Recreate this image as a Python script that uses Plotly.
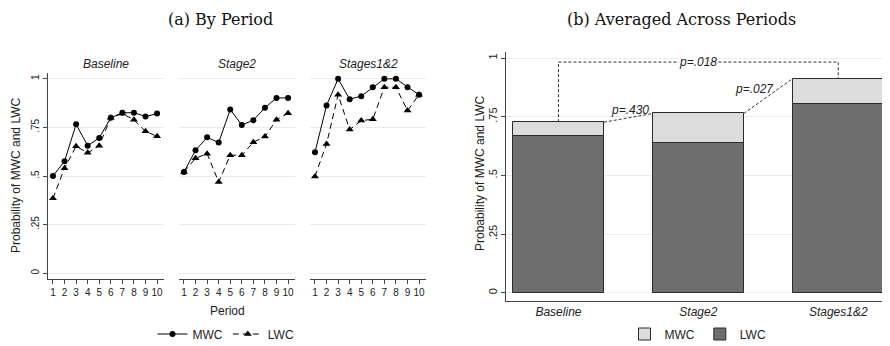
import plotly.graph_objects as go

# ---------------- data ----------------
periods = [1, 2, 3, 4, 5, 6, 7, 8, 9, 10]
panel_names = ["Baseline", "Stage2", "Stages1&2"]

mwc_baseline = [0.50, 0.576, 0.766, 0.656, 0.696, 0.80, 0.825, 0.826, 0.806, 0.821]
lwc_baseline = [0.385, 0.54, 0.653, 0.619, 0.656, 0.80, 0.821, 0.789, 0.73, 0.704]

mwc_stage2 = [0.521, 0.632, 0.699, 0.672, 0.842, 0.763, 0.787, 0.851, 0.902, 0.902]
lwc_stage2 = [0.521, 0.591, 0.615, 0.469, 0.607, 0.607, 0.674, 0.703, 0.789, 0.823]

mwc_stages12 = [0.622, 0.863, 1.0, 0.895, 0.911, 0.957, 1.0, 1.0, 0.957, 0.918]
lwc_stages12 = [0.498, 0.665, 0.918, 0.739, 0.785, 0.792, 0.957, 0.957, 0.837, 0.918]

avg_categories = ["Baseline", "Stage2", "Stages1&2"]
avg_mwc = [0.727, 0.764, 0.913]
avg_lwc = [0.666, 0.639, 0.804]

p_labels = ["p=.430", "p=.027", "p=.018"]

y_tickvals = [0, 0.25, 0.5, 0.75, 1]
y_ticktext = ["0", ".25", ".5", ".75", "1"]

# ---------------- styles ----------------
# the page body has an 8px default margin, so the figure is drawn 8px in
OFF = 8
W, H = 890 - OFF, 346 - OFF
SANS = "Liberation Sans, Arial, sans-serif"
SERIF = "DejaVu Serif, serif"
AX = "#444444"
GRID = "#ebebeb"
DARK = "#6e6e6e"
LIGHT = "#dcdcdc"
TXT = "#222222"


def px_x(p):
    return (p - OFF) / W


def px_y(p):
    return 1 - (p - OFF) / H


fig = go.Figure()

series = [(mwc_baseline, lwc_baseline), (mwc_stage2, lwc_stage2), (mwc_stages12, lwc_stages12)]
for i, (m, l) in enumerate(series):
    ax = "" if i == 0 else str(i + 1)
    fig.add_trace(go.Scatter(
        x=periods, y=m, mode="lines+markers", name="MWC",
        line=dict(color="black", width=1),
        marker=dict(symbol="circle", size=6, color="black"),
        xaxis="x" + ax, yaxis="y" + ax, showlegend=(i == 0), legend="legend"))
    fig.add_trace(go.Scatter(
        x=periods, y=l, mode="lines+markers", name="LWC",
        line=dict(color="black", width=1, dash="6px,4px"),
        marker=dict(symbol="triangle-up", size=7, color="black"),
        xaxis="x" + ax, yaxis="y" + ax, showlegend=(i == 0), legend="legend"))

# stacked bars: LWC at bottom, MWC-LWC on top
fig.add_trace(go.Bar(
    x=list(range(len(avg_categories))), y=avg_lwc, name="LWC",
    marker=dict(color=DARK, line=dict(color="#2a2a2a", width=1)),
    width=0.65, xaxis="x4", yaxis="y4", legend="legend2"))
fig.add_trace(go.Bar(
    x=list(range(len(avg_categories))), y=[a - b for a, b in zip(avg_mwc, avg_lwc)],
    base=avg_lwc, name="MWC",
    marker=dict(color=LIGHT, line=dict(color="#2a2a2a", width=1)),
    width=0.65, xaxis="x4", yaxis="y4", legend="legend2"))

# ---------------- axes ----------------
left_dom_y = [px_y(279), px_y(73)]
panel_px = [(48, 164), (179, 295), (310, 426)]
layout_axes = {}
for i, (a, b) in enumerate(panel_px):
    k = "" if i == 0 else str(i + 1)
    layout_axes["xaxis" + k] = dict(
        domain=[px_x(a), px_x(b)], range=[0.57, 10.6], anchor="y" + k,
        tickvals=periods, ticks="outside", ticklen=4, tickcolor=AX,
        showline=True, linecolor=AX, linewidth=1, showgrid=False, zeroline=False,
        automargin=False,
        tickfont=dict(family=SANS, size=10, color=TXT), fixedrange=True)
    layout_axes["yaxis" + k] = dict(
        domain=left_dom_y, range=[-0.03, 1.03], anchor="x" + k,
        tickvals=y_tickvals, ticktext=y_ticktext,
        showticklabels=(i == 0), ticks="outside" if i == 0 else "",
        ticklen=4, tickcolor=AX, tickangle=-90,
        showline=(i == 0), linecolor=AX, linewidth=1,
        showgrid=True, gridcolor=GRID, gridwidth=1, zeroline=False,
        automargin=False,
        tickfont=dict(family=SANS, size=10, color=TXT), fixedrange=True)

layout_axes["xaxis4"] = dict(
    domain=[px_x(506), 1.0], range=[-0.375, 2.37], anchor="y4",
    tickvals=[0, 1, 2], ticktext=["<i>%s</i>" % c for c in avg_categories],
    ticks="", showline=True, linecolor=AX, linewidth=1, showgrid=False,
    zeroline=False, automargin=False,
    tickfont=dict(family=SANS, size=12, color=TXT), fixedrange=True)
layout_axes["yaxis4"] = dict(
    domain=[px_y(301), px_y(52)], range=[-0.035, 1.026], anchor="x4",
    tickvals=y_tickvals, ticktext=y_ticktext, ticks="outside", ticklen=4,
    tickcolor=AX, tickangle=-90, showline=True, linecolor=AX, linewidth=1,
    showgrid=True, gridcolor=GRID, zeroline=False, automargin=False,
    tickfont=dict(family=SANS, size=11, color=TXT), fixedrange=True)

# ---------------- annotations ----------------
ann = []


def paper_text(text, x, y, font, angle=0):
    ann.append(dict(text=text, x=px_x(x), y=px_y(y), xref="paper", yref="paper",
                    xanchor="center", yanchor="middle", textangle=angle,
                    showarrow=False, font=font))


paper_text("(a) By Period", 220, 19, dict(family=SERIF, size=16, color="#111"))
paper_text("(b) Averaged Across Periods", 681, 19, dict(family=SERIF, size=16, color="#111"))
for (a, b), name in zip(panel_px, panel_names):
    paper_text("<i>%s</i>" % name, (a + b) / 2, 64, dict(family=SANS, size=12, color=TXT))
paper_text("Period", 227, 311, dict(family=SANS, size=12, color=TXT))
paper_text("Probability of MWC and LWC", 16, 176, dict(family=SANS, size=12, color=TXT), -90)
paper_text("Probability of MWC and LWC", 480, 174, dict(family=SANS, size=12, color=TXT), -90)

# p-value connectors
half = 0.65 / 2
top_y = 0.983
shapes = []
dline = dict(color="#333", width=1, dash="3px,2px")
for i in range(2):
    x0, y0 = i + half, avg_mwc[i]
    x1, y1 = i + 1 - half, avg_mwc[i + 1]
    shapes.append(dict(type="line", xref="x4", yref="y4", x0=x0, y0=y0, x1=x1, y1=y1, line=dline))
shapes.append(dict(type="path", xref="x4", yref="y4",
                   path="M 0 %f L 0 %f L 2 %f L 2 %f" % (avg_mwc[0], top_y, top_y, avg_mwc[2]),
                   line=dline))
ann.append(dict(text="<i>%s</i>" % p_labels[0], x=0.51, y=0.778, xref="x4", yref="y4",
                xanchor="center", yanchor="middle",
                showarrow=False, font=dict(family=SANS, size=12, color=TXT)))
ann.append(dict(text="<i>%s</i>" % p_labels[1], x=1.40, y=0.868, xref="x4", yref="y4",
                xanchor="center", yanchor="middle",
                showarrow=False, font=dict(family=SANS, size=12, color=TXT)))
ann.append(dict(text="<i>%s</i>" % p_labels[2], x=1.0, y=top_y, xref="x4", yref="y4",
                xanchor="center", yanchor="middle",
                showarrow=False, bgcolor="white", borderpad=0,
                font=dict(family=SANS, size=12, color=TXT)))

fig.update_layout(
    width=W, height=H, margin=dict(l=0, r=0, t=0, b=0, pad=0, autoexpand=False),
    paper_bgcolor="white", plot_bgcolor="white",
    barmode="overlay", bargap=0,
    annotations=ann, shapes=shapes,
    legend=dict(orientation="h", x=px_x(226), y=px_y(334), xanchor="center", yanchor="middle",
                font=dict(family=SANS, size=12, color=TXT), bgcolor="rgba(0,0,0,0)"),
    legend2=dict(orientation="h", x=px_x(698), y=px_y(334), xanchor="center", yanchor="middle",
                 traceorder="reversed",
                 font=dict(family=SANS, size=12, color=TXT), bgcolor="rgba(0,0,0,0)"),
    **layout_axes,
)

fig.write_html("out.html")
